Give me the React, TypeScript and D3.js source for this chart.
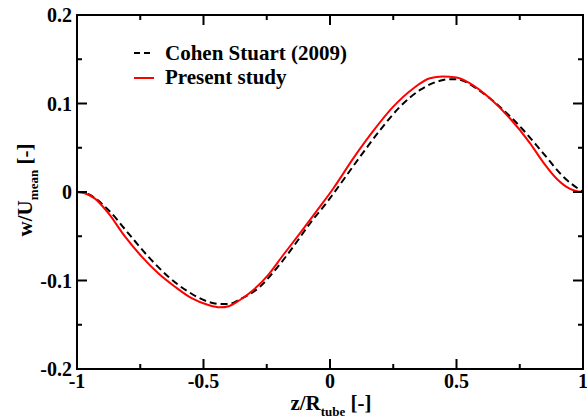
import React from "react";
import * as d3 from "d3";

const xMajor = [-1, -0.5, 0, 0.5, 1];
const xMinor = [-0.75, -0.25, 0.25, 0.75];
const yMajor = [-0.2, -0.1, 0, 0.1, 0.2];
const yMinor = [-0.15, -0.05, 0.05, 0.15];
const xTickLabels = ["-1", "-0.5", "0", "0.5", "1"];
const yTickLabels = ["-0.2", "-0.1", "0", "0.1", "0.2"];

const cohenX = [-1, -0.98, -0.955, -0.876, -0.797, -0.718, -0.639, -0.56, -0.481, -0.435, -0.4, -0.356, -0.277, -0.211, -0.145, -0.079, -0.013, 0.013, 0.119, 0.198, 0.277, 0.356, 0.435, 0.47, 0.5, 0.606, 0.685, 0.764, 0.843, 0.922, 0.988, 1];
const cohenY = [0, -0.0003, -0.0025, -0.0203, -0.0467, -0.0731, -0.0957, -0.1127, -0.124, -0.1266, -0.1265, -0.1212, -0.107, -0.0862, -0.0618, -0.0354, -0.012, -0.002, 0.0399, 0.07, 0.0964, 0.1153, 0.1258, 0.1275, 0.1273, 0.1115, 0.0927, 0.07, 0.0437, 0.0173, 0.0023, 0];

const presentX = [-1, -0.97, -0.929, -0.876, -0.81, -0.744, -0.679, -0.613, -0.547, -0.481, -0.435, -0.4, -0.356, -0.303, -0.25, -0.185, -0.119, -0.053, 0.013, 0.092, 0.171, 0.25, 0.329, 0.395, 0.445, 0.5, 0.553, 0.632, 0.711, 0.791, 0.843, 0.896, 0.949, 0.98, 1];
const presentY = [0, -0.0015, -0.0075, -0.024, -0.0505, -0.0731, -0.0919, -0.107, -0.12, -0.1277, -0.1303, -0.129, -0.122, -0.1107, -0.0957, -0.0712, -0.0467, -0.0215, 0.004, 0.038, 0.069, 0.0964, 0.117, 0.1285, 0.1305, 0.1295, 0.1228, 0.1059, 0.0833, 0.055, 0.0335, 0.015, 0.0035, 0.0005, 0];

const legendLabels = ["Cohen Stuart (2009)", "Present study"];

const W = 587, H = 419;
const L = 77, R = 583, T = 15, B = 369;

export default function App() {
  const x = d3.scaleLinear().domain([-1, 1]).range([L, R]);
  const y = d3.scaleLinear().domain([-0.2, 0.2]).range([B, T]);
  const line = d3.line<[number, number]>().x(d => x(d[0])).y(d => y(d[1])).curve(d3.curveMonotoneX);
  const cohen = cohenX.map((v, i) => [v, cohenY[i]] as [number, number]);
  const present = presentX.map((v, i) => [v, presentY[i]] as [number, number]);
  const ts = { fontFamily: "'Liberation Serif', 'Times New Roman', serif", fontWeight: 700 } as React.CSSProperties;
  return (
    <svg width={W} height={H} style={{ position: "absolute", left: 0, top: 0 }}>
      <rect x={0} y={0} width={W} height={H} fill="white" />
      <path d={line(cohen) || ""} fill="none" stroke="black" strokeWidth={2} strokeDasharray="7,4" />
      <path d={line(present) || ""} fill="none" stroke="#ff0000" strokeWidth={2} />
      <rect x={L} y={T} width={R - L} height={B - T} fill="none" stroke="black" strokeWidth={2} />
      {xMajor.map(v => (
        <g key={"xM" + v}>
          <line x1={x(v)} x2={x(v)} y1={B} y2={B - 10} stroke="black" strokeWidth={2} />
          <line x1={x(v)} x2={x(v)} y1={T} y2={T + 10} stroke="black" strokeWidth={2} />
        </g>
      ))}
      {xMinor.map(v => (
        <g key={"xm" + v}>
          <line x1={x(v)} x2={x(v)} y1={B} y2={B - 5} stroke="black" strokeWidth={2} />
          <line x1={x(v)} x2={x(v)} y1={T} y2={T + 5} stroke="black" strokeWidth={2} />
        </g>
      ))}
      {yMajor.map(v => (
        <g key={"yM" + v}>
          <line x1={L} x2={L + 10} y1={y(v)} y2={y(v)} stroke="black" strokeWidth={2} />
          <line x1={R} x2={R - 10} y1={y(v)} y2={y(v)} stroke="black" strokeWidth={2} />
        </g>
      ))}
      {yMinor.map(v => (
        <g key={"ym" + v}>
          <line x1={L} x2={L + 5} y1={y(v)} y2={y(v)} stroke="black" strokeWidth={2} />
          <line x1={R} x2={R - 5} y1={y(v)} y2={y(v)} stroke="black" strokeWidth={2} />
        </g>
      ))}
      {xMajor.map((v, i) => (
        <text key={"xl" + v} style={ts} x={x(v)} y={388} fontSize={20} textAnchor="middle">{xTickLabels[i]}</text>
      ))}
      {yMajor.map((v, i) => (
        <text key={"yl" + v} style={ts} x={72} y={y(v) + 7} fontSize={20} textAnchor="end">{yTickLabels[i]}</text>
      ))}
      <text style={ts} x={331} y={410} fontSize={21} textAnchor="middle">
        z/R<tspan fontSize={13} dy={6}>tube</tspan><tspan dy={-6}> [-]</tspan>
      </text>
      <text style={ts} transform={`translate(32,190) rotate(-90)`} fontSize={21} textAnchor="middle">
        w/U<tspan fontSize={13} dy={6}>mean</tspan><tspan dy={-6}> [-]</tspan>
      </text>
      <line x1={134} x2={154} y1={53} y2={53} stroke="black" strokeWidth={2} strokeDasharray="6,4" />
      <text style={ts} x={165} y={60} fontSize={21}>{legendLabels[0]}</text>
      <line x1={134} x2={154} y1={78} y2={78} stroke="#ff0000" strokeWidth={2} />
      <text style={ts} x={165} y={84} fontSize={21}>{legendLabels[1]}</text>
    </svg>
  );
}
